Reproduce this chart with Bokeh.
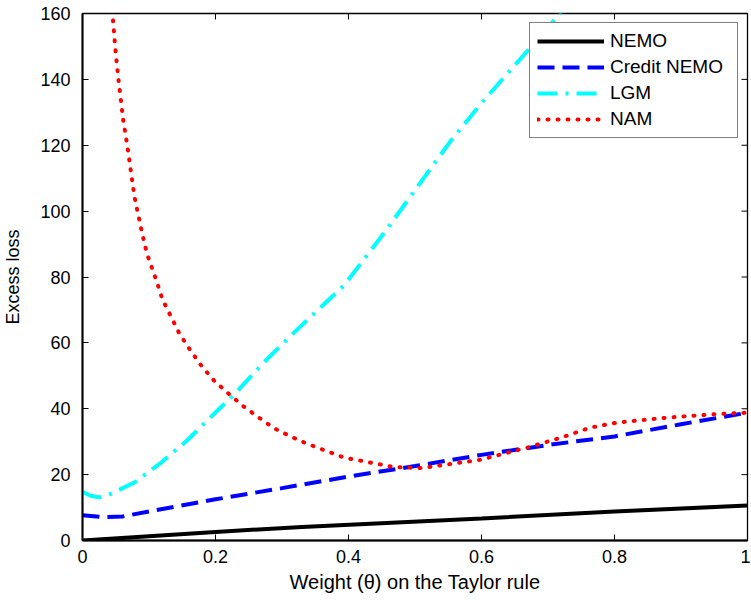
import math
from bokeh.plotting import figure
from bokeh.models import Range1d, Legend, LegendItem, FixedTicker
from bokeh.embed import file_html
from bokeh.resources import INLINE

# ---- data ----
x_ticks = [0, 0.2, 0.4, 0.6, 0.8, 1.0]
x_tick_labels = ["0", "0.2", "0.4", "0.6", "0.8", "1"]
y_ticks = [0, 20, 40, 60, 80, 100, 120, 140, 160]

nemo_x = [0, 0.2, 0.33, 0.6, 0.8, 1.0]
nemo_y = [0, 2.6, 4.1, 6.7, 8.8, 10.6]

credit_x = [0, 0.03, 0.06, 0.1, 0.2, 0.3, 0.4, 0.5, 0.6, 0.7, 0.8, 0.9, 1.0]
credit_y = [7.7, 7.1, 7.3, 8.8, 12.5, 15.9, 19.4, 22.6, 26.0, 29.0, 31.6, 35.3, 38.8]

lgm_x = [0, 0.012, 0.025, 0.043, 0.078, 0.118, 0.158, 0.198, 0.226, 0.27, 0.32, 0.393,
         0.453, 0.503, 0.554, 0.599, 0.652, 0.714, 0.725]
lgm_y = [14.8, 13.6, 13.1, 14.2, 17.6, 23.6, 30.5, 38.5, 43.9, 53.5, 63.5, 77.4,
         93.2, 107.2, 121.4, 132.6, 144.7, 159.0, 162.0]

nam_x = [0.04, 0.045, 0.05, 0.054, 0.061, 0.068, 0.078, 0.09, 0.097, 0.111, 0.12,
         0.133, 0.146, 0.162, 0.179, 0.198, 0.219, 0.241, 0.264, 0.288, 0.314,
         0.335, 0.393, 0.468, 0.51, 0.598, 0.669, 0.719, 0.764, 0.804, 0.879,
         0.954, 1.0]
nam_y = [170, 160, 148, 140, 128, 119, 104.5, 93, 87, 79, 73.3,
         68, 62.7, 57.8, 53, 48.5, 44.7, 40.9, 37.5, 34.1, 31.5,
         29.6, 25.2, 22.3, 22.0, 24.5, 28.2, 31.2, 34.3, 35.8, 37.3,
         38.4, 38.8]

FONT = "Liberation Sans"
X_MIN, X_MAX, Y_MIN, Y_MAX = 0, 1, 0, 160

p = figure(width=750, height=600, x_range=Range1d(X_MIN, X_MAX), y_range=Range1d(Y_MIN, Y_MAX),
           output_backend="svg", toolbar_location=None,
           min_border_left=82, min_border_right=3, min_border_top=13, min_border_bottom=60)
p.grid.visible = False
p.outline_line_color = "black"
p.outline_line_width = 1.3
p.background_fill_color = "white"
p.border_fill_color = "white"

xt = FixedTicker(ticks=x_ticks, minor_ticks=[])
yt = FixedTicker(ticks=y_ticks, minor_ticks=[])

p.xaxis.ticker = xt
p.xaxis.major_label_overrides = {t: l for t, l in zip(x_ticks, x_tick_labels)}
p.yaxis.ticker = yt

for ax in list(p.xaxis) + list(p.yaxis):
    ax.major_tick_in = 6
    ax.major_tick_out = 0
    ax.minor_tick_line_color = None
    ax.axis_line_width = 2
    ax.axis_line_color = "black"
    ax.major_tick_line_color = "black"
    ax.major_label_text_font = FONT
    ax.major_label_text_font_size = "18px"
    ax.major_label_text_color = "black"
    ax.axis_label_text_font = FONT
    ax.axis_label_text_font_style = "normal"
    ax.axis_label_text_color = "black"

p.xaxis.axis_label = "Weight (\u03b8) on the Taylor rule"
p.yaxis.axis_label = "Excess loss"
p.xaxis.axis_label_text_font_size = "20px"
p.yaxis.axis_label_text_font_size = "18px"
p.xaxis.major_label_standoff = 9
p.yaxis.major_label_standoff = 12
p.xaxis.axis_label_standoff = 5
p.yaxis.axis_label_standoff = 14

# inward ticks on the top and right edges of the box
p.ray(x=x_ticks, y=Y_MAX, length=6, length_units="screen", angle=-math.pi / 2,
      line_color="black", line_width=1)
p.ray(x=X_MAX, y=y_ticks, length=6, length_units="screen", angle=math.pi,
      line_color="black", line_width=1)

r1 = p.line(nemo_x, nemo_y, line_color="black", line_width=4)
r2 = p.line(credit_x, credit_y, line_color="#0000ff", line_width=4, line_dash="17 8")
r3 = p.line(lgm_x, lgm_y, line_color="#00ffff", line_width=4, line_dash="20 8 3 8")
r4 = p.line(nam_x, nam_y, line_color="#ff0000", line_width=4, line_dash="1 9",
            line_cap="round")

legend = Legend(items=[
    LegendItem(label="NEMO", renderers=[r1]),
    LegendItem(label="Credit NEMO", renderers=[r2]),
    LegendItem(label="LGM", renderers=[r3]),
    LegendItem(label="NAM", renderers=[r4]),
], location="top_right")
legend.margin = 9
legend.padding = 7
legend.spacing = 4
legend.glyph_width = 67
legend.glyph_height = 20
legend.label_height = 20
legend.label_width = 120
legend.label_standoff = 6
legend.label_text_font = FONT
legend.label_text_font_size = "19px"
legend.label_text_color = "black"
legend.border_line_color = "black"
legend.border_line_width = 1.3
legend.background_fill_color = "white"
legend.background_fill_alpha = 1.0
p.add_layout(legend)

open("out.html", "w").write(file_html(p, INLINE))
